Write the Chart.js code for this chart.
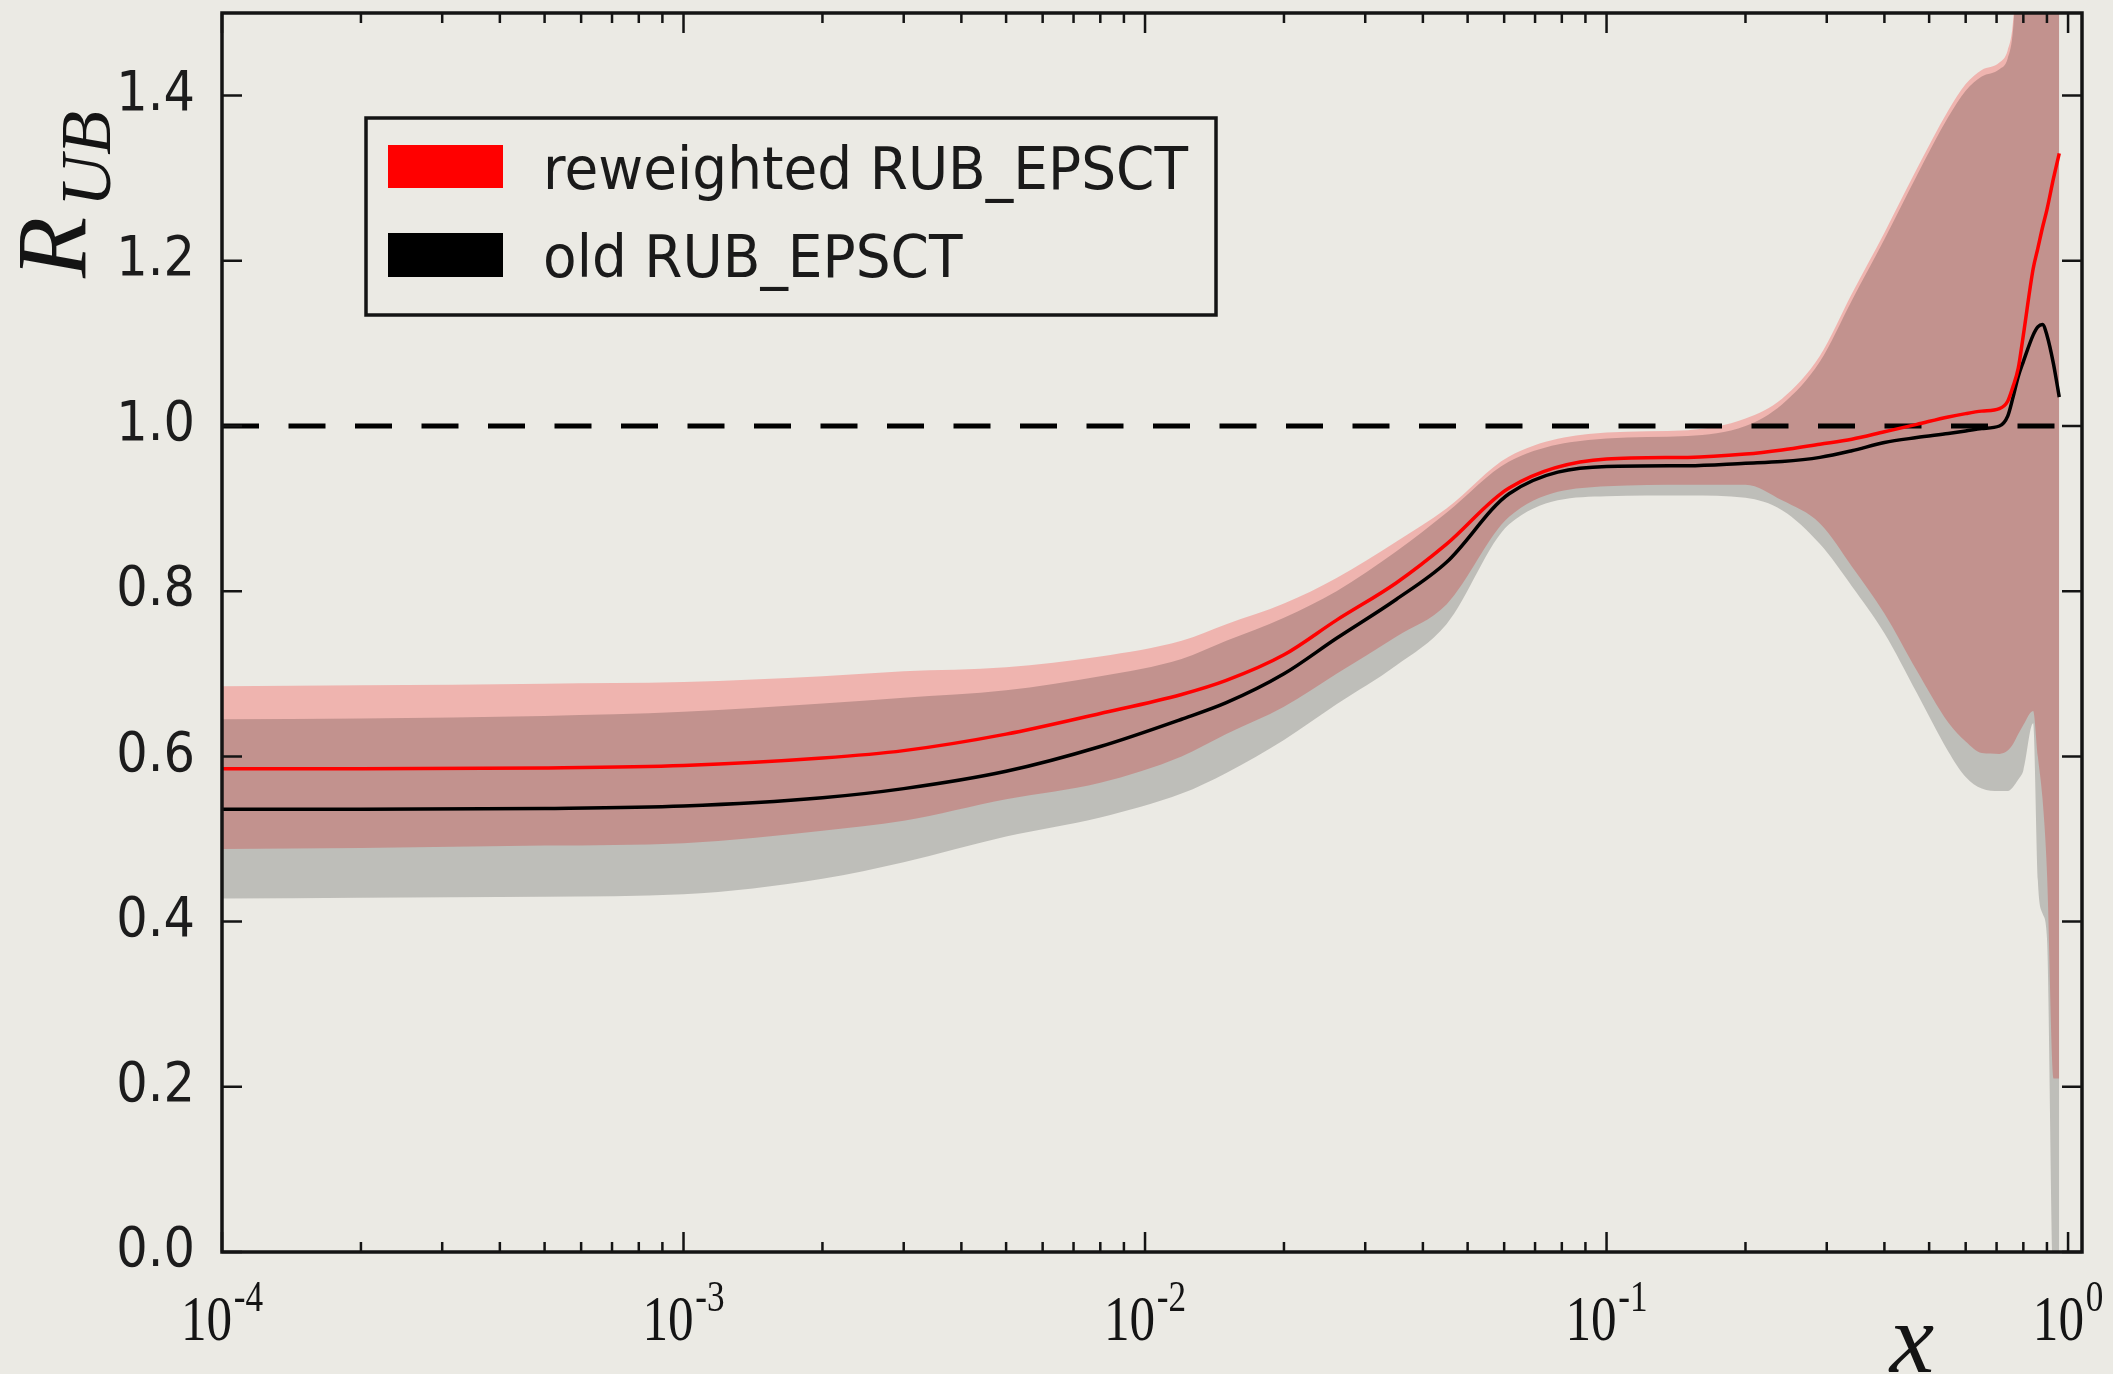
<!DOCTYPE html>
<html>
<head>
<meta charset="utf-8">
<script src="https://cdn.jsdelivr.net/npm/chart.js@4.4.0/dist/chart.umd.min.js"></script>
<style>
  html, body { margin: 0; padding: 0; background: #ebeae4; }
  canvas { display: block; }
</style>
</head>
<body>
<canvas id="ratio-chart" width="2113" height="1374"></canvas>
<script>
// x grid (log scale) and the values
const xValues = [1e-4, 2e-4, 5e-4, 1e-3, 2e-3, 3e-3, 5e-3, 8e-3, 0.012, 0.015,
  0.02, 0.026, 0.035, 0.045, 0.0615, 0.1, 0.15, 0.2, 0.24, 0.29,
  0.34, 0.4, 0.47, 0.55, 0.6, 0.65, 0.71, 0.74, 0.76, 0.78,
  0.8, 0.84, 0.86, 0.88, 0.9, 0.93, 0.957];

const reweightedCentral = [0.585, 0.585, 0.586, 0.589, 0.598, 0.607, 0.627, 0.652, 0.675, 0.692,
  0.723, 0.765, 0.810, 0.857, 0.925, 0.960, 0.962, 0.966, 0.971, 0.978,
  0.984, 0.993, 1.002, 1.011, 1.015, 1.018, 1.021, 1.030, 1.048, 1.070,
  1.110, 1.190, 1.215, 1.240, 1.262, 1.300, 1.330];
const reweightedUpper = [0.685, 0.686, 0.688, 0.690, 0.697, 0.703, 0.708, 0.721, 0.740, 0.760,
  0.785, 0.816, 0.860, 0.900, 0.963, 0.992, 0.995, 1.009, 1.033, 1.085,
  1.160, 1.234, 1.311, 1.382, 1.414, 1.431, 1.440, 1.455, 1.490, 1.600,
  1.700, 1.850, 1.900, 1.950, 2.000, 2.050, 2.100];
const reweightedLower = [0.488, 0.489, 0.492, 0.495, 0.510, 0.522, 0.548, 0.568, 0.600, 0.627,
  0.660, 0.700, 0.745, 0.784, 0.890, 0.927, 0.929, 0.929, 0.910, 0.882,
  0.830, 0.773, 0.704, 0.641, 0.618, 0.604, 0.603, 0.607, 0.615, 0.627,
  0.638, 0.655, 0.600, 0.550, 0.460, 0.210, 0.210];

const oldCentral = [0.536, 0.536, 0.537, 0.540, 0.550, 0.561, 0.582, 0.612, 0.645, 0.665,
  0.700, 0.743, 0.790, 0.835, 0.918, 0.951, 0.952, 0.955, 0.957, 0.962,
  0.970, 0.980, 0.986, 0.991, 0.994, 0.997, 1.000, 1.012, 1.035, 1.060,
  1.078, 1.110, 1.120, 1.123, 1.110, 1.075, 1.035];
const oldUpper = [0.645, 0.646, 0.649, 0.654, 0.664, 0.671, 0.680, 0.697, 0.718, 0.740,
  0.768, 0.800, 0.848, 0.895, 0.957, 0.985, 0.988, 1.000, 1.026, 1.078,
  1.152, 1.226, 1.303, 1.374, 1.406, 1.423, 1.432, 1.445, 1.480, 1.590,
  1.690, 1.840, 1.890, 1.940, 1.990, 2.040, 2.090];
const oldLower = [0.428, 0.429, 0.430, 0.433, 0.452, 0.472, 0.503, 0.526, 0.555, 0.580,
  0.620, 0.663, 0.710, 0.760, 0.881, 0.915, 0.916, 0.913, 0.898, 0.857,
  0.806, 0.749, 0.677, 0.606, 0.575, 0.561, 0.558, 0.558, 0.563, 0.572,
  0.583, 0.640, 0.450, 0.410, 0.380, -0.050, -0.050];

const referenceLevel = 1.0;
const yTickValues = [0.0, 0.2, 0.4, 0.6, 0.8, 1.0, 1.2, 1.4];
const xTickValues = [1e-4, 1e-3, 1e-2, 1e-1, 1];
const xTickExponents = ["-4", "-3", "-2", "-1", "0"];
const legendLabels = ["reweighted RUB_EPSCT", "old RUB_EPSCT"];

const X_MIN = 1e-4, X_MAX = 1.072;
const Y_MIN = 0, Y_MAX = 1.5;
const BG = "#ebeae4";
const INK = "#141414";

function points(ys) {
  return xValues.map((x, i) => ({ x: x, y: ys[i] }));
}

function hiddenEdge(ys, order) {
  return {
    data: points(ys),
    borderColor: "rgba(0,0,0,0)",
    borderWidth: 0,
    pointRadius: 0,
    fill: false,
    cubicInterpolationMode: "monotone",
    order: order,
  };
}

// draw text squeezed horizontally (the source figure is a bit narrow)
function squeezed(ctx, text, x, y, sx) {
  ctx.save();
  ctx.translate(x, y);
  ctx.scale(sx, 1);
  ctx.fillText(text, 0, 0);
  ctx.restore();
}

const framePlugin = {
  id: "frame",
  beforeDraw(chart) {
    const ctx = chart.ctx;
    ctx.save();
    ctx.fillStyle = BG;
    ctx.fillRect(0, 0, chart.width, chart.height);
    ctx.restore();
  },
  afterDraw(chart) {
    const ctx = chart.ctx;
    const { left, right, top, bottom } = chart.chartArea;
    const xs = chart.scales.x;
    const ys = chart.scales.y;
    ctx.save();

    // inward ticks on all four sides
    ctx.strokeStyle = INK;
    ctx.lineWidth = 2.5;
    ctx.beginPath();
    for (let e = -4; e <= 0; e++) {
      for (let m = 1; m <= 9; m++) {
        const v = m * Math.pow(10, e);
        if (v < X_MIN || v > X_MAX) continue;
        const px = xs.getPixelForValue(v);
        const len = m === 1 ? 20 : 10;
        ctx.moveTo(px, bottom); ctx.lineTo(px, bottom - len);
        ctx.moveTo(px, top); ctx.lineTo(px, top + len);
      }
    }
    yTickValues.forEach(v => {
      const py = ys.getPixelForValue(v);
      ctx.moveTo(left, py); ctx.lineTo(left + 20, py);
      ctx.moveTo(right, py); ctx.lineTo(right - 20, py);
    });
    ctx.stroke();

    // frame
    ctx.lineWidth = 3.5;
    ctx.strokeRect(left, top, right - left, bottom - top);

    // x tick labels: 10^n
    ctx.fillStyle = INK;
    ctx.textBaseline = "alphabetic";
    ctx.textAlign = "left";
    const sx = 0.8;
    xTickValues.forEach((v, i) => {
      const px = xs.getPixelForValue(v);
      ctx.font = '64px "Liberation Serif"';
      const wBase = ctx.measureText("10").width;
      ctx.font = '44px "Liberation Serif"';
      const wExp = ctx.measureText(xTickExponents[i]).width;
      const total = (wBase + wExp + 2) * sx;
      const x0 = px - total / 2;
      ctx.font = '64px "Liberation Serif"';
      squeezed(ctx, "10", x0, bottom + 88, sx);
      ctx.font = '44px "Liberation Serif"';
      squeezed(ctx, xTickExponents[i], x0 + (wBase + 2) * sx, bottom + 59, sx);
    });

    // x axis title
    ctx.font = 'italic 100px "Liberation Serif"';
    ctx.textAlign = "center";
    ctx.fillText("x", 1912, 1372);

    // y axis title R_UB (rotated)
    ctx.save();
    ctx.translate(85, 278);
    ctx.rotate(-Math.PI / 2);
    ctx.textAlign = "left";
    ctx.font = 'italic 100px "Liberation Serif"';
    ctx.fillText("R", 0, 0);
    ctx.font = 'italic 72px "Liberation Serif"';
    ctx.fillText("UB", 71, 25);
    ctx.restore();

    // legend
    ctx.lineWidth = 3.5;
    ctx.strokeStyle = INK;
    ctx.strokeRect(366, 118, 850, 197);
    ctx.fillStyle = "#ff0000";
    ctx.fillRect(388, 145, 115, 43);
    ctx.fillStyle = "#000000";
    ctx.fillRect(388, 233, 115, 44);
    ctx.fillStyle = "#1a1a1a";
    ctx.textAlign = "left";
    ctx.font = '58px "DejaVu Sans"';
    const lsx = 645 / ctx.measureText(legendLabels[0]).width;
    squeezed(ctx, legendLabels[0], 543, 189, lsx);
    squeezed(ctx, legendLabels[1], 543, 277, lsx);

    ctx.restore();
  },
};

const chart = new Chart(document.getElementById("ratio-chart").getContext("2d"), {
  type: "line",
  data: {
    datasets: [
      {
        label: legendLabels[0],
        data: points(reweightedCentral),
        borderColor: "#ff0000",
        borderWidth: 3.5,
        pointRadius: 0,
        fill: false,
        cubicInterpolationMode: "monotone",
        order: 0,
      },
      {
        label: legendLabels[1],
        data: points(oldCentral),
        borderColor: "#000000",
        borderWidth: 3.5,
        pointRadius: 0,
        fill: false,
        cubicInterpolationMode: "monotone",
        order: 0,
      },
      {
        label: "reference",
        data: [{ x: X_MIN, y: referenceLevel }, { x: X_MAX, y: referenceLevel }],
        borderColor: "#000000",
        borderWidth: 5,
        borderDash: [37, 29.5],
        borderCapStyle: "butt",
        pointRadius: 0,
        fill: false,
        order: 1,
      },
      hiddenEdge(oldLower, 2),
      Object.assign(hiddenEdge(oldUpper, 2), { fill: "-1", backgroundColor: "rgba(0,0,0,0.19)" }),
      hiddenEdge(reweightedLower, 3),
      Object.assign(hiddenEdge(reweightedUpper, 3), { fill: "-1", backgroundColor: "rgba(255,0,0,0.23)" }),
    ],
  },
  options: {
    responsive: false,
    animation: false,
    layout: { padding: { top: 13, right: 31, left: 0, bottom: 0 } },
    scales: {
      x: {
        type: "logarithmic",
        min: X_MIN,
        max: X_MAX,
        grid: { display: false, drawTicks: false },
        border: { display: false },
        ticks: { display: false },
        afterBuildTicks(scale) {
          scale.ticks = xTickValues.map(v => ({ value: v }));
        },
        afterFit(scale) {
          scale.height = 122;
          scale.paddingLeft = 0;
          scale.paddingRight = 0;
        },
      },
      y: {
        type: "linear",
        min: Y_MIN,
        max: Y_MAX,
        grid: { display: false, drawTicks: false },
        border: { display: false },
        afterBuildTicks(scale) {
          scale.ticks = yTickValues.map(v => ({ value: v }));
        },
        ticks: {
          padding: 27,
          color: "#1c1c1c",
          font: { family: "'DejaVu Sans Condensed', 'DejaVu Sans', sans-serif", size: 55 },
          callback: v => Number(v).toFixed(1),
        },
        afterFit(scale) {
          scale.width = 222;
          scale.paddingTop = 0;
          scale.paddingBottom = 0;
        },
      },
    },
    plugins: {
      legend: { display: false },
      tooltip: { enabled: false },
    },
  },
  plugins: [framePlugin],
});
</script>
</body>
</html>
